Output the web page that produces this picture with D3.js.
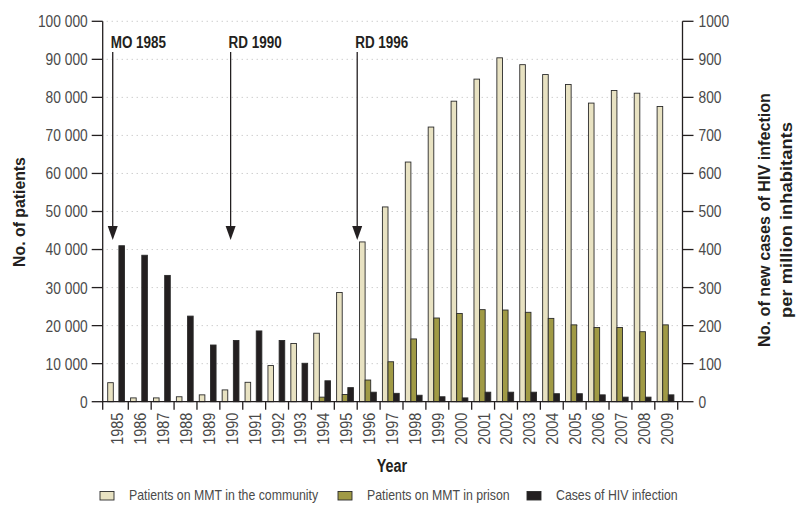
<!DOCTYPE html>
<html>
<head>
<meta charset="utf-8">
<script src="https://cdn.jsdelivr.net/npm/d3@7"></script>
<style>
  body { margin: 0; background: #fff; }
  svg { display: block; }
  text { font-family: "Liberation Sans", Arial, sans-serif; }
  .tick-label { fill: #4a4a4a; font-size: 17px; }
  .bold { font-weight: bold; fill: #231f20; }
  .grid { stroke: #b8b8b8; stroke-width: 1; stroke-dasharray: 1 4; }
</style>
</head>
<body>
<div id="chart"></div>
<script>
// data
const years = d3.range(1985, 2010).map(String);
const community = [5000, 1000, 1000, 1300, 1800, 3100, 5100, 9500, 15300, 18000,
                   28700, 42000, 51200, 63000, 72200, 79000, 84800, 90400, 88600, 86000,
                   83400, 78500, 81800, 81100, 77600];
const prison = [0, 0, 0, 0, 0, 0, 0, 0, 0, 1200,
                1900, 5700, 10500, 16500, 22000, 23200, 24200, 24100, 23500, 21900,
                20200, 19500, 19500, 18400, 20200];
const hiv = [410, 385, 332, 225, 149, 161, 186, 161, 101, 55,
             37, 25, 22, 17, 13, 10, 25, 25, 25, 21,
             21, 18, 12, 12, 18];
const leftTicks = d3.range(0, 100001, 10000);
const rightTicks = d3.range(0, 1001, 100);
const seriesNames = ["Patients on MMT in the community", "Patients on MMT in prison", "Cases of HIV infection"];
const seriesColors = ["#e8e2c2", "#a09a45", "#231f20"];
const events = [
  { label: "MO 1985", year: "1985", offset: 0.32 },
  { label: "RD 1990", year: "1990", offset: 0.47 },
  { label: "RD 1996", year: "1996", offset: 0.0 }
];

const width = 796, height = 505;
const plotL = 102.7, plotR = 682.5, plotT = 21.3, plotB = 401.7;

// the reference uses a condensed face; squeeze a regular one to match
function condense(sel, f) {
    sel.each(function () {
        const w = this.getComputedTextLength();
        d3.select(this).attr("textLength", w * f).attr("lengthAdjust", "spacingAndGlyphs");
    });
}

const svg = d3.select("#chart").append("svg")
    .attr("width", width)
    .attr("height", height)
    .attr("viewBox", `0 0 ${width} ${height}`);

const x = d3.scaleBand().domain(years).range([105.4, 677.7]);
const sub = d3.scaleBand().domain([0, 1, 2]).range([2.3, 2.3 + 3 * 5.6]);
const yL = d3.scaleLinear().domain([0, 100000]).range([plotB, plotT]);
const yR = d3.scaleLinear().domain([0, 1000]).range([plotB, plotT]);

const fmt = d3.formatLocale({ decimal: ".", thousands: " ", grouping: [3], currency: ["", ""] }).format(",d");

// gridlines
svg.append("g").selectAll("line")
    .data(leftTicks.slice(1))
    .join("line")
    .attr("class", "grid")
    .attr("x1", plotL + 4).attr("x2", plotR - 2)
    .attr("y1", d => yL(d)).attr("y2", d => yL(d));

// bars
const rows = years.map((y, i) => ({ year: y, vals: [yL(community[i]), yL(prison[i]), yR(hiv[i])], raw: [community[i], prison[i], hiv[i]] }));
const groups = svg.append("g").selectAll("g")
    .data(rows)
    .join("g")
    .attr("transform", d => `translate(${x(d.year)},0)`);

groups.selectAll("rect")
    .data(d => d.vals.map((v, k) => ({ v, k, raw: d.raw[k] })).filter(e => e.raw > 0))
    .join("rect")
    .attr("x", d => sub(d.k))
    .attr("width", sub.bandwidth())
    .attr("y", d => d.v)
    .attr("height", d => plotB - d.v)
    .attr("fill", d => seriesColors[d.k])
    .attr("stroke", "#2b2b2b")
    .attr("stroke-width", 0.9);

// left axis
const axL = svg.append("g");
axL.append("line").attr("x1", plotL).attr("x2", plotL).attr("y1", plotT).attr("y2", plotB + 8)
    .attr("stroke", "#231f20").attr("stroke-width", 1.3);
axL.selectAll(".t").data(leftTicks).join("line").attr("class", "t")
    .attr("x1", plotL - 11).attr("x2", plotL).attr("y1", d => yL(d)).attr("y2", d => yL(d))
    .attr("stroke", "#231f20").attr("stroke-width", 1.3);
axL.selectAll("text").data(leftTicks).join("text")
    .attr("class", "tick-label")
    .attr("x", plotL - 15).attr("y", d => yL(d)).attr("dy", "0.35em")
    .attr("text-anchor", "end")
    .text(d => fmt(d))
    .call(condense, 0.81);

// right axis
const axR = svg.append("g");
axR.append("line").attr("x1", plotR).attr("x2", plotR).attr("y1", plotT).attr("y2", plotB)
    .attr("stroke", "#231f20").attr("stroke-width", 1.3);
axR.selectAll(".t").data(rightTicks).join("line").attr("class", "t")
    .attr("x1", plotR).attr("x2", plotR + 11).attr("y1", d => yR(d)).attr("y2", d => yR(d))
    .attr("stroke", "#231f20").attr("stroke-width", 1.3);
axR.selectAll("text").data(rightTicks).join("text")
    .attr("class", "tick-label")
    .attr("x", plotR + 16).attr("y", d => yR(d)).attr("dy", "0.35em")
    .text(d => d)
    .call(condense, 0.81);

// x axis
const axX = svg.append("g");
axX.append("line").attr("x1", plotL).attr("x2", plotR).attr("y1", plotB).attr("y2", plotB)
    .attr("stroke", "#231f20").attr("stroke-width", 1.3);
axX.selectAll(".t").data(years.slice(1)).join("line").attr("class", "t")
    .attr("x1", d => x(d)).attr("x2", d => x(d)).attr("y1", plotB).attr("y2", plotB + 8)
    .attr("stroke", "#231f20").attr("stroke-width", 1.3);
axX.append("line")
    .attr("x1", x.range()[1]).attr("x2", x.range()[1]).attr("y1", plotB).attr("y2", plotB + 8)
    .attr("stroke", "#231f20").attr("stroke-width", 1.3);
axX.selectAll("text").data(years).join("text")
    .attr("class", "tick-label")
    .attr("transform", d => `translate(${x(d) + x.bandwidth() / 2 + 0.5},${plotB + 11}) rotate(-90)`)
    .attr("dy", "0.35em")
    .attr("text-anchor", "end")
    .text(d => d)
    .call(condense, 0.85);

// event arrows
const ev = svg.append("g").selectAll("g").data(events).join("g")
    .attr("transform", d => `translate(${x(d.year) + d.offset * x.bandwidth()},0)`);
ev.append("text").attr("class", "bold")
    .attr("x", -2).attr("y", 47.5)
    .style("font-size", "16px")
    .text(d => d.label)
    .call(condense, 0.84);
ev.append("line").attr("x1", 0).attr("x2", 0).attr("y1", 52).attr("y2", 228)
    .attr("stroke", "#231f20").attr("stroke-width", 1.3);
ev.append("path").attr("d", "M-5,226 L5,226 L0,240 Z").attr("fill", "#231f20");

// axis titles
svg.append("text").attr("class", "bold")
    .attr("transform", `translate(25,212) rotate(-90)`)
    .attr("text-anchor", "middle")
    .style("font-size", "17px")
    .text("No. of patients")
    .call(condense, 0.93);
svg.append("text").attr("class", "bold")
    .attr("transform", `translate(770,220) rotate(-90)`)
    .attr("text-anchor", "middle")
    .style("font-size", "17px")
    .text("No. of new cases of HIV infection")
    .call(condense, 0.95);
svg.append("text").attr("class", "bold")
    .attr("transform", `translate(792,220) rotate(-90)`)
    .attr("text-anchor", "middle")
    .style("font-size", "17px")
    .text("per million inhabitants")
    .call(condense, 1.08);
svg.append("text").attr("class", "bold")
    .attr("x", 392).attr("y", 472)
    .attr("text-anchor", "middle")
    .style("font-size", "18px")
    .text("Year")
    .call(condense, 0.8);

// legend
const legendX = [100, 338, 527];
const lg = svg.append("g").selectAll("g").data(seriesNames).join("g")
    .attr("transform", (d, i) => `translate(${legendX[i]},491.5)`);
lg.append("rect").attr("x", 0).attr("y", 0).attr("width", 14).attr("height", 8.5)
    .attr("fill", (d, i) => seriesColors[i]).attr("stroke", "#2b2b2b").attr("stroke-width", 0.9);
lg.append("text").attr("x", 29).attr("y", 8)
    .style("font-size", "15px").attr("fill", "#4a4a4a")
    .text(d => d)
    .call(condense, 0.82);
</script>
</body>
</html>
